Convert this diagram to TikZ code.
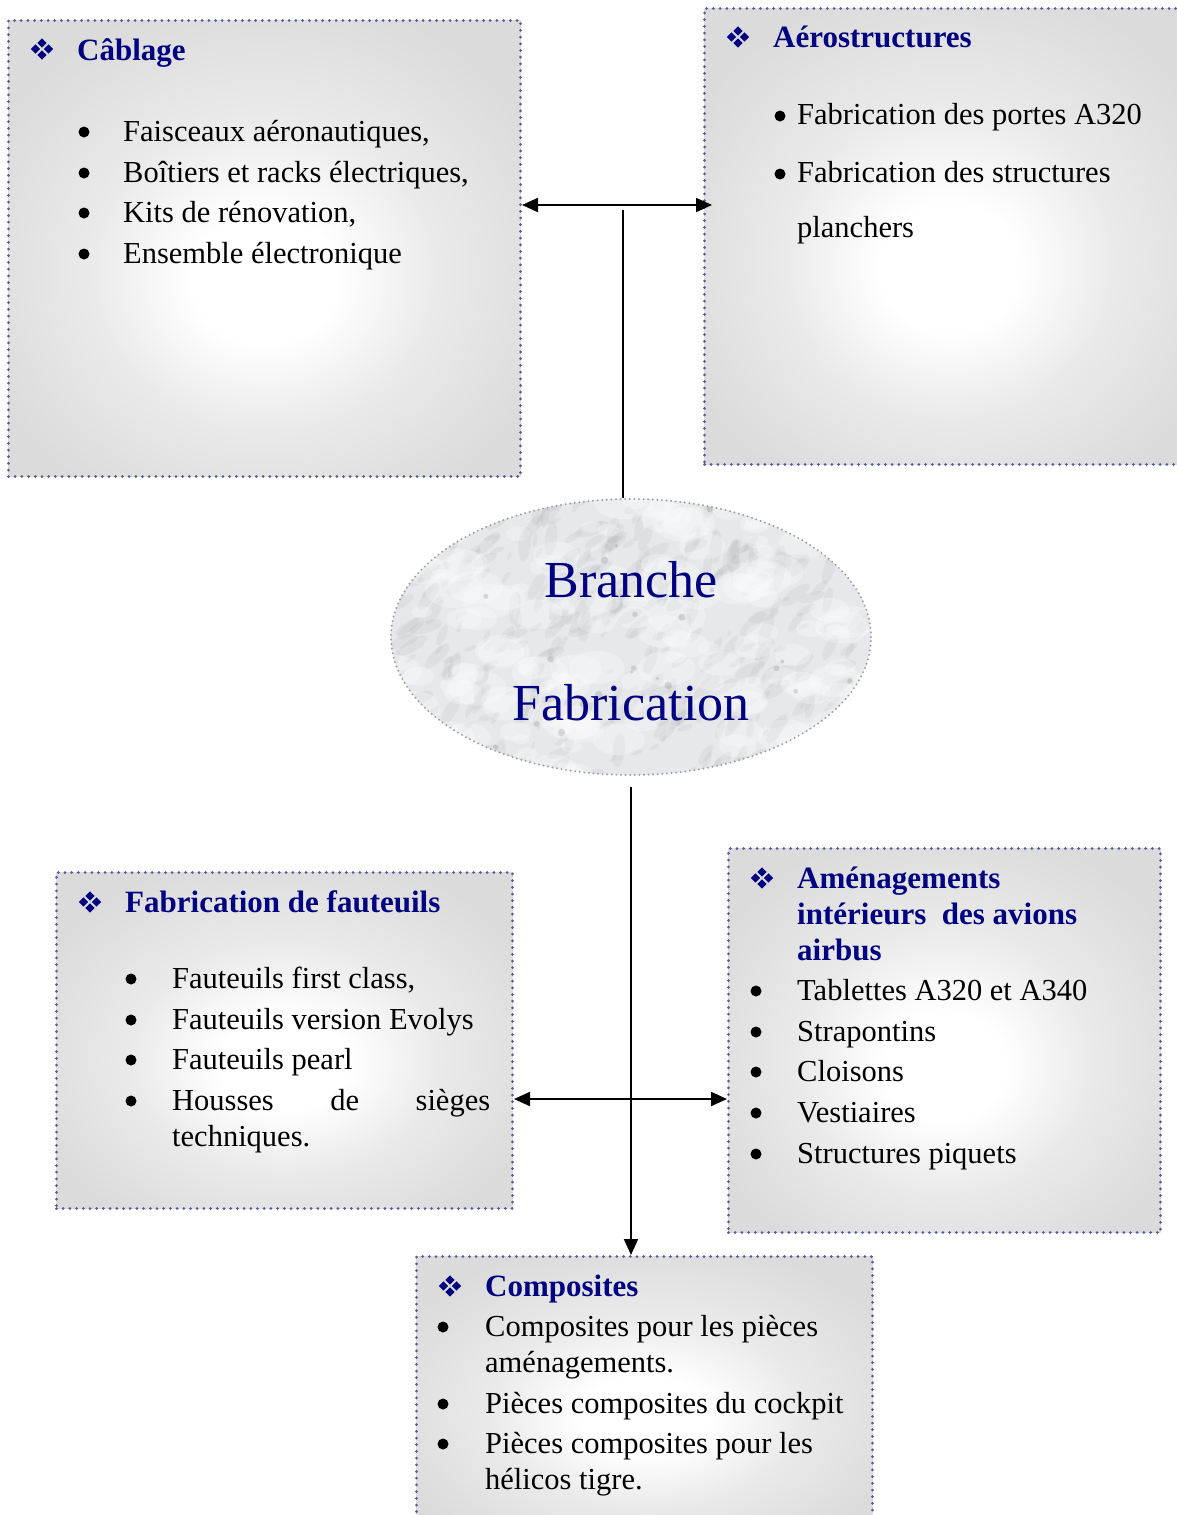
\documentclass[tikz,border=0pt]{standalone}
\usepackage{fontspec}
\setmainfont{Liberation Serif}
\usetikzlibrary{arrows.meta,shapes.geometric}

\definecolor{titleblue}{RGB}{0,0,128}
\definecolor{dotblue}{RGB}{88,88,150}
\definecolor{boxedge}{RGB}{219,219,219}
\definecolor{boxmid}{RGB}{234,234,234}
\definecolor{marblebase}{RGB}{230,232,235}
\definecolor{veingray}{RGB}{120,124,132}
\definecolor{rimgray}{RGB}{160,160,164}

% soft light centre, grey towards the panel edges
\pgfdeclareradialshading{boxglow}{\pgfpoint{0bp}{-4bp}}{%
  color(0bp)=(white); color(7bp)=(white); color(17bp)=(boxmid);
  color(30bp)=(boxedge); color(50bp)=(boxedge)}

\tikzset{
  panel/.style={rectangle, anchor=north west, inner sep=0pt, shade, shading=boxglow,
    draw=dotblue, line width=3pt, dash pattern=on 0pt off 6.7pt, line cap=round},
  body/.style={anchor=base west, inner sep=0pt, font=\fontsize{30.5}{36}\selectfont},
  heading/.style={anchor=base west, inner sep=0pt, text=titleblue,
    font=\bfseries\fontsize{31}{36}\selectfont},
  hubtext/.style={anchor=base, inner sep=0pt, text=titleblue,
    font=\fontsize{52}{60}\selectfont},
  link/.style={line width=2pt, black},
  tip/.tip={Triangle[length=16pt,width=14pt]},
  fourdiamond/.pic={
    \foreach \dx/\dy in {0/-6,6.5/0,0/6,-6.5/0}
      \fill[titleblue] (\dx pt,\dy pt) +(0pt,-4.6pt) -- +(4.6pt,0pt) -- +(0pt,4.6pt) -- +(-4.6pt,0pt) -- cycle;
  },
}

\begin{document}
\begin{tikzpicture}[x=1pt,y=-1pt]
\useasboundingbox (0,0) rectangle (1176,1515);

% ---- panels ----
\node[panel, minimum width=512pt, minimum height=456pt] (cab)  at (7,19)    {};
\node[panel, minimum width=490pt, minimum height=456pt] (aero) at (703,7)   {};
\node[panel, minimum width=456pt, minimum height=336pt] (seat) at (55,871)  {};
\node[panel, minimum width=432pt, minimum height=384pt] (amen) at (727,847) {};
\node[panel, minimum width=456pt, minimum height=280pt] (comp) at (415,1255){};

% ---- central marble ellipse ----
\begin{scope}
  \clip (631,637) ellipse (240pt and 138pt);
  \fill[marblebase] (391,499) rectangle (871,775);
  \pgfmathsetseed{11}
  \foreach \k in {1,...,420}{
    \pgfmathsetmacro\mx{391+480*rnd}
    \pgfmathsetmacro\my{499+276*rnd}
    \pgfmathsetmacro\mr{4+14*rnd}
    \pgfmathsetmacro\ma{15+70*rnd}
    \fill[veingray, opacity=0.08, rotate around={\ma:(\mx,\my)}]
      (\mx,\my) ellipse ({\mr pt} and {0.35*\mr pt});
  }
  \foreach \k in {1,...,160}{
    \pgfmathsetmacro\mx{391+480*rnd}
    \pgfmathsetmacro\my{499+276*rnd}
    \pgfmathsetmacro\mr{8+22*rnd}
    \fill[white, opacity=0.28] (\mx,\my) ellipse ({\mr pt} and {0.6*\mr pt});
  }
  \foreach \k in {1,...,25}{
    \pgfmathsetmacro\mx{391+480*rnd}
    \pgfmathsetmacro\my{499+276*rnd}
    \pgfmathsetmacro\mr{1.5+2.5*rnd}
    \fill[veingray, opacity=0.25] (\mx,\my) circle (\mr pt);
  }
\end{scope}
\node[ellipse, minimum width=480pt, minimum height=276pt, inner sep=0pt,
      draw=rimgray, line width=2.2pt, dash pattern=on 0pt off 4.6pt, line cap=round] (hub) at (631,637) {};
\node[hubtext] (hubA) at (631,597) {Branche};
\node[hubtext] (hubB) at (631,720) {Fabrication};

% ---- connectors ----
\coordinate (topfork) at (623,205);
\coordinate (topdrop) at (623,210);
\draw[link] (topdrop) -- (topdrop |- hub.north);
\draw[link, {tip}-{tip}] (cab.east |- topfork) -- ([xshift=9pt]aero.west |- topfork);

\coordinate (lowstart) at (631,787);
\coordinate (lowfork) at (631,1099);
\draw[link, -{tip}] (lowstart) -- (comp.north -| lowstart);
\draw[link, {tip}-{tip}] (seat.east |- lowfork) -- (amen.west |- lowfork);

% ---- Câblage ----
\pic at (42,49) {fourdiamond};
\node[heading] (cabT) at (77,60) {Câblage};
\foreach \yy in {132,173,213,254} \fill (84,\yy) circle (5.5pt);
\node[body] (cab1) at (123,141) {Faisceaux aéronautiques,};
\node[body] (cab2) at (123,182) {Boîtiers et racks électriques,};
\node[body] (cab3) at (123,222) {Kits de rénovation,};
\node[body] (cab4) at (123,263) {Ensemble électronique};

% ---- Aérostructures ----
\pic at (738,37) {fourdiamond};
\node[heading] (aeroT) at (773,47) {Aérostructures};
\foreach \yy in {116,174} \fill (780,\yy) circle (5.5pt);
\node[body] (aero1) at (797,124) {Fabrication des portes A320};
\node[body] (aero2) at (797,182) {Fabrication des structures};
\node[body] (aero3) at (797,237) {planchers};

% ---- Fabrication de fauteuils ----
\pic at (90,902) {fourdiamond};
\node[heading] (seatT) at (125,912) {Fabrication de fauteuils};
\foreach \yy in {979,1020,1060,1101} \fill (131,\yy) circle (5.5pt);
\node[body] (seat1) at (172,988)  {Fauteuils first class,};
\node[body] (seat2) at (172,1029) {Fauteuils version Evolys};
\node[body] (seat3) at (172,1069) {Fauteuils pearl};
\node[body] (seat4) at (172,1110) {\makebox[318pt][s]{Housses de sièges}};
\node[body] (seat5) at (172,1146) {techniques.};

% ---- Aménagements intérieurs ----
\pic at (762,878) {fourdiamond};
\node[heading] (amenT1) at (797,888) {Aménagements};
\node[heading] (amenT2) at (797,924) {intérieurs\ \ des avions};
\node[heading] (amenT3) at (797,960) {airbus};
\foreach \yy in {991,1032,1072,1113,1154} \fill (756,\yy) circle (5.5pt);
\node[body] (amen1) at (797,1000) {Tablettes A320 et A340};
\node[body] (amen2) at (797,1041) {Strapontins};
\node[body] (amen3) at (797,1081) {Cloisons};
\node[body] (amen4) at (797,1122) {Vestiaires};
\node[body] (amen5) at (797,1163) {Structures piquets};

% ---- Composites ----
\pic at (450,1286) {fourdiamond};
\node[heading] (compT) at (485,1296) {Composites};
\foreach \yy in {1327,1404,1444} \fill (443,\yy) circle (5.5pt);
\node[body] (comp1) at (485,1336) {Composites pour les pièces};
\node[body] (comp2) at (485,1372) {aménagements.};
\node[body] (comp3) at (485,1413) {Pièces composites du cockpit};
\node[body] (comp4) at (485,1453) {Pièces composites pour les};
\node[body] (comp5) at (485,1489) {hélicos tigre.};
\end{tikzpicture}
\end{document}
